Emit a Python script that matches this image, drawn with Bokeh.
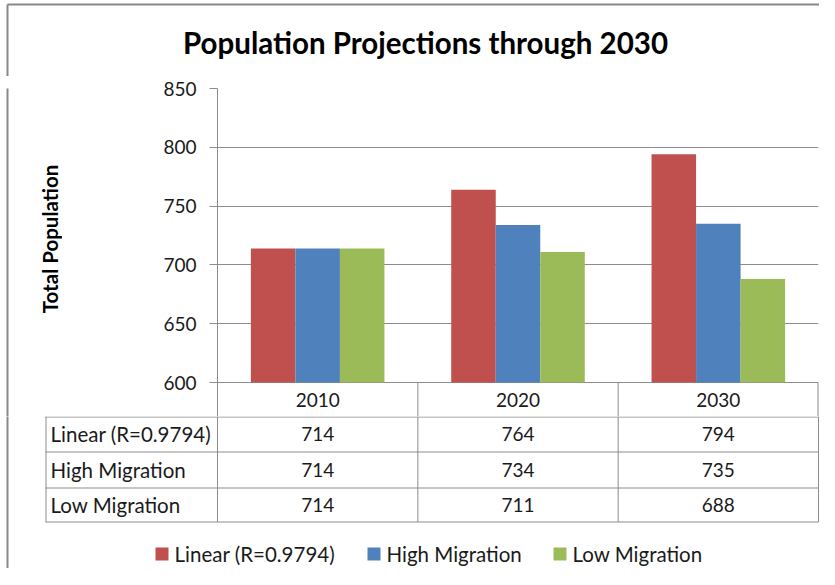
from math import pi
from bokeh.plotting import figure
from bokeh.layouts import column, row
from bokeh.models import FactorRange, Range1d, FixedTicker, ColumnDataSource
from bokeh.core.properties import value
from bokeh.transform import dodge
from bokeh.embed import file_html
from bokeh.resources import INLINE

# ---- data ----
years = ["2010", "2020", "2030"]
series = ["Linear (R=0.9794)", "High Migration", "Low Migration"]
linear = [714, 764, 794]
high_migration = [714, 734, 735]
low_migration = [714, 711, 688]
y_ticks = [600, 650, 700, 750, 800, 850]
title_text = "Population Projections through 2030"
y_title = "Total Population"

values = [linear, high_migration, low_migration]
colors = ["#C0504D", "#4F81BD", "#9BBB59"]

# ---- layout constants (page pixels) ----
W, H = 819, 568
FL, FR, FT, FB = 217, 818, 88, 382      # plot area
HDR = 416                               # bottom of the header row of the table
TOP_H = 76                              # height of the title strip
LEFT_W = 62                             # width of the strip holding the y title
ROWS = [416, 451, 487, 521]             # table row boundaries
TL = 45                                 # table left edge
LEG_Y = 553
LEG_X = [155, 367, 553]
BX, BY = 7, 4                           # outer border
FONT = "Lato"
FS_NUM = "19px"
FS_TXT = "20.5px"
GRID = "#8c8c8c"
BORDER = "#888888"
TXT = "#1a1a1a"

y_min, y_max = y_ticks[0], y_ticks[-1]
per_px = (y_max - y_min) / (FB - FT)
y_start = y_min - (HDR - FB) * per_px


def blank(width, height, xr, yr):
    f = figure(width=width, height=height, x_range=xr, y_range=yr, output_backend="svg",
               toolbar_location=None, x_axis_location=None, y_axis_location=None,
               min_border_left=0, min_border_right=0, min_border_top=0, min_border_bottom=0)
    f.grid.visible = False
    f.outline_line_color = None
    f.background_fill_color = "white"
    f.border_fill_color = "white"
    return f


# ---- title strip ----
t = blank(W, TOP_H, Range1d(0, W), Range1d(TOP_H, 0))
t.text(x=[425], y=[42], text=[title_text], text_align="center", text_baseline="middle",
       text_font=value(FONT), text_font_size="29.5px", text_font_style="bold", text_color="black")
t.segment(x0=[BX, BX], y0=[BY, BY], x1=[W + 5, BX], y1=[BY, TOP_H + 5],
          line_color=BORDER, line_width=2)

# ---- left strip with the y-axis title ----
lft = blank(LEFT_W, HDR - TOP_H, Range1d(0, LEFT_W), Range1d(HDR, TOP_H))
lft.text(x=[49], y=[232], text=[y_title], angle=pi / 2, text_align="center",
         text_baseline="middle", text_font=value(FONT), text_font_size="20.5px",
         text_font_style="bold", text_color="black")
lft.segment(x0=[BX], y0=[TOP_H - 5], x1=[BX], y1=[HDR + 5], line_color=BORDER, line_width=2)

# ---- main chart ----
p = figure(width=W - LEFT_W, height=HDR - TOP_H, x_range=FactorRange(*years, range_padding=0),
           y_range=Range1d(y_start, y_max), output_backend="svg", toolbar_location=None,
           x_axis_location=None,
           min_border_left=FL - LEFT_W, min_border_right=W - FR, min_border_top=FT - TOP_H,
           min_border_bottom=0)
p.outline_line_color = None
p.background_fill_color = "white"
p.border_fill_color = "white"

src = ColumnDataSource(dict(year=years, linear=linear, high=high_migration, low=low_migration))
bw = 1 / 4.5
for key, off, col in zip(["linear", "high", "low"], [-bw, 0, bw], colors):
    p.vbar(x=dodge("year", off, range=p.x_range), top=key, bottom=y_min, width=bw,
           source=src, fill_color=col, line_color=None)

p.grid.grid_line_color = None
p.ygrid.grid_line_color = GRID
p.ygrid.ticker = FixedTicker(ticks=y_ticks)

ya = p.yaxis[0]
ya.ticker = FixedTicker(ticks=y_ticks)
ya.axis_line_color = GRID
ya.major_tick_line_color = GRID
ya.major_tick_out = 8
ya.major_tick_in = 0
ya.minor_tick_line_color = None
ya.major_label_standoff = 13
ya.major_label_text_font = FONT
ya.major_label_text_font_size = FS_NUM
ya.major_label_text_color = TXT

# header row of the data table (category labels)
n = len(years)
p.segment(x0=list(range(n + 1)), y0=[y_min] * (n + 1), x1=list(range(n + 1)),
          y1=[y_start] * (n + 1), line_color=GRID, line_width=[1] * n + [2])
p.text(x=years, y=[(y_min + y_start) / 2] * n, text=years, text_align="center",
       text_baseline="middle", text_font=value(FONT), text_font_size=FS_NUM, text_color=TXT)

# ---- table body and legend ----
b = blank(W, H - HDR, Range1d(0, W), Range1d(H, HDR))
cols = [FL + k * (FR - FL) / n for k in range(n + 1)]
# horizontal lines
b.segment(x0=[TL] * len(ROWS), y0=[r + 0.5 for r in ROWS], x1=[FR] * len(ROWS),
          y1=[r + 0.5 for r in ROWS], line_color=GRID, line_width=1)
# vertical lines
vx = [TL + 0.5] + cols
b.segment(x0=vx, y0=[ROWS[0]] * len(vx), x1=vx, y1=[ROWS[-1] + 0.5] * len(vx),
          line_color=GRID, line_width=1)
# row labels and values
row_mid = [(ROWS[i] + ROWS[i + 1]) / 2 for i in range(len(series))]
b.text(x=[TL + 5] * len(series), y=row_mid, text=series, text_align="left",
       text_baseline="middle", text_font=value(FONT), text_font_size=FS_TXT, text_color=TXT)
vx_list, vy_list, vt_list = [], [], []
for i, vals in enumerate(values):
    for j, v in enumerate(vals):
        vx_list.append((cols[j] + cols[j + 1]) / 2)
        vy_list.append(row_mid[i])
        vt_list.append(str(v))
b.text(x=vx_list, y=vy_list, text=vt_list, text_align="center", text_baseline="middle",
       text_font=value(FONT), text_font_size=FS_NUM, text_color=TXT)
# legend
b.rect(x=[lx + 6.5 for lx in LEG_X], y=[LEG_Y + 0.5] * 3, width=13, height=13,
       fill_color=colors, line_color=None)
b.text(x=[lx + 19 for lx in LEG_X], y=[LEG_Y] * 3, text=series, text_align="left",
       text_baseline="middle", text_font=value(FONT), text_font_size=FS_TXT, text_color=TXT)
# outer border (left side)
b.segment(x0=[BX], y0=[HDR - 5], x1=[BX], y1=[H + 5], line_color=BORDER, line_width=2)

layout = column(t, row(lft, p), b)
open("out.html", "w").write(file_html(layout, INLINE))
